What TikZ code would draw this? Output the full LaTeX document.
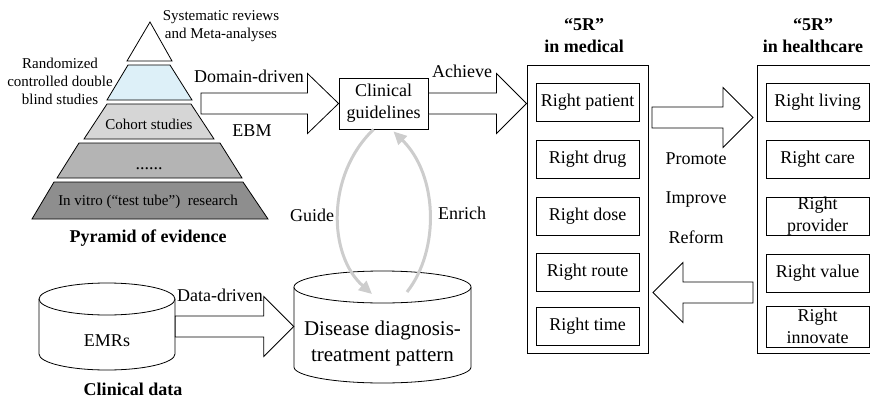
\documentclass[tikz,border=0pt]{standalone}
\usepackage{fontspec}
\setmainfont{Liberation Serif}
\usetikzlibrary{calc,arrows.meta}

\definecolor{layerblue}{HTML}{DDF0F8}
\definecolor{layergrayA}{HTML}{D6D6D6}
\definecolor{layergrayB}{HTML}{B4B4B4}
\definecolor{layergrayC}{HTML}{8E8E8E}
\definecolor{loopgray}{HTML}{CDCDCD}

% hollow block arrow: start point, tip point, signed head length
\newcommand\blockarrow[3]{%
  \draw[hollow] ($(#1)+(0,-10.5)$) -- ($(#2)+({-1*(#3)},-10.5)$)
    -- ($(#2)+({-1*(#3)},-30)$) -- (#2) -- ($(#2)+({-1*(#3)},30)$)
    -- ($(#2)+({-1*(#3)},10.5)$) -- ($(#1)+(0,10.5)$) -- cycle;}

\begin{document}
\begin{tikzpicture}[x=1pt,y=-1pt,
  txt/.style={font=\fontsize{18}{22}\selectfont, inner sep=0pt, align=center},
  small/.style={font=\fontsize{15}{18}\selectfont, inner sep=0pt, align=center},
  title/.style={font=\fontsize{18}{22}\selectfont\bfseries, inner sep=0pt, align=center},
  layer/.style={draw=black, line width=0.8pt, line join=miter},
  hollow/.style={draw=black, fill=white, line width=0.8pt},
  frame/.style={draw=black, line width=0.9pt, minimum width=121pt, minimum height=288pt, inner sep=0pt},
  rbox/.style={draw=black, line width=0.9pt, minimum width=103pt, minimum height=38pt, inner sep=0pt,
    font=\fontsize{18}{22}\selectfont},
  loop/.style={draw=loopgray, line width=3pt, -{Triangle[length=13pt,width=12pt]}},
  cyl/.style={draw=black, fill=white, line width=0.8pt}]
\useasboundingbox (0,0) rectangle (870,399);

% ---- pyramid of evidence ----
\draw[layer, fill=white] (150,22) -- (172,61) -- (127,61) -- cycle;
\draw[layer, fill=layerblue] (128,65) -- (170,65) -- (192,100) -- (107,100) -- cycle;
\draw[layer, fill=layergrayA] (107,104) -- (191,104) -- (214,139) -- (84,139) -- cycle;
\draw[layer, fill=layergrayB] (79,143) -- (220,143) -- (242,178) -- (57,178) -- cycle;
\draw[layer, fill=layergrayC] (54,182) -- (243,182) -- (268,219) -- (32,219) -- cycle;

\node[small] (sysrev) at (221,26) {Systematic reviews\\and Meta-analyses};
\node[small] (rct) at (60,81) {Randomized\\controlled double\\blind studies};
\node[small] (cohort) at (149,124) {Cohort studies};
\node[txt, anchor=base] (dots) at (149,169) {......};
\node[small] (vitro) at (148,202) {In vitro (“test tube”)~ research};
\node[title] (pyrlabel) at (148,238) {Pyramid of evidence};

% ---- clinical guidelines ----
\node[draw=black, line width=0.9pt, minimum width=89pt, minimum height=51pt, inner sep=0pt, txt]
  (cg) at (383.5,103.5) {Clinical\\guidelines};
\coordinate (pyrout) at (201,103.5);
\blockarrow{pyrout}{cg.west}{31}
\node[txt] (domain) at (249,76) {Domain-driven};
\node[txt] (ebm) at (252,131) {EBM};

% ---- 5R in medical ----
\node[frame] (med) at (587.5,209) {};
\node[title] (medtitle) at (584,36) {“5R”\\in medical};
\node[rbox] (m1) at (587.5,102.5) {Right patient};
\node[rbox] (m2) at (587.5,159) {Right drug};
\node[rbox] (m3) at (587.5,216) {Right dose};
\node[rbox] (m4) at (587.5,272.5) {Right route};
\node[rbox] (m5) at (587.5,326.5) {Right time};

\blockarrow{cg.east}{cg.east -| med.west}{30}
\node[txt] (achieve) at (462,71) {Achieve};

% ---- 5R in healthcare ----
\node[frame] (hc) at (817.5,209) {};
\node[title] (hctitle) at (813,36) {“5R”\\in healthcare};
\node[rbox] (h1) at (817.5,102.5) {Right living};
\node[rbox] (h2) at (817.5,159) {Right care};
\node[rbox] (h3) at (817.5,216) {};
\node[txt] (h3t) at (h3) {Right\\provider};
\node[rbox] (h4) at (817.5,273) {Right value};
\node[rbox, minimum height=41pt] (h5) at (817.5,326.5) {};
\node[txt] (h5t) at (h5) {Right\\innovate};

% ---- arrows between the two 5R columns ----
\coordinate (pa) at (652,117.5);
\coordinate (pb) at (753,117.5);
\blockarrow{pa}{pb}{30}
\coordinate (ra) at (753,292.5);
\coordinate (rb) at (653,292.5);
\blockarrow{ra}{rb}{-30}
\node[txt] (promote) at (696,159) {Promote};
\node[txt] (improve) at (696,200) {Improve};
\node[txt] (reform) at (696,237) {Reform};

% ---- clinical data cylinder ----
\draw[cyl] (39,299) -- (39,354) arc[start angle=180, end angle=360, x radius=68pt, y radius=16pt] -- (175,299);
\draw[cyl] (107,299) ellipse[x radius=68pt, y radius=16pt];
\node[minimum width=136pt, minimum height=55pt, inner sep=0pt] (emr) at (107,326.5) {};
\node[txt] (emrt) at (107,341) {EMRs};
\node[title] (cdlabel) at (133,389) {Clinical data};

% ---- disease pattern cylinder ----
\draw[cyl] (294,287) -- (294,367) arc[start angle=180, end angle=360, x radius=88.5pt, y radius=16pt] -- (471,287);
\draw[cyl] (382.5,287) ellipse[x radius=88.5pt, y radius=16pt];
\node[minimum width=177pt, minimum height=80pt, inner sep=0pt] (dis) at (382.5,326.5) {};
\node[font=\fontsize{21}{26}\selectfont, inner sep=0pt, align=center] (dist) at (382.5,343)
  {Disease diagnosis-\\treatment pattern};

\blockarrow{emr.east}{dis.west}{30}
\node[txt] (datadriven) at (220,295) {Data-driven};

% ---- guide / enrich loop ----
\coordinate (gs) at ($(cg.south)+(-10,0)$);
\coordinate (ge) at (372,294);
\coordinate (es) at (407,292);
\coordinate (ee) at ($(cg.south)+(10,2)$);
\draw[loop] (gs) .. controls (326,175) and (328,255) .. (ge);
\draw[loop] (es) .. controls (440,250) and (438,175) .. (ee);
\node[txt] (guide) at (312,215) {Guide};
\node[txt] (enrich) at (462,213) {Enrich};
\end{tikzpicture}
\end{document}
